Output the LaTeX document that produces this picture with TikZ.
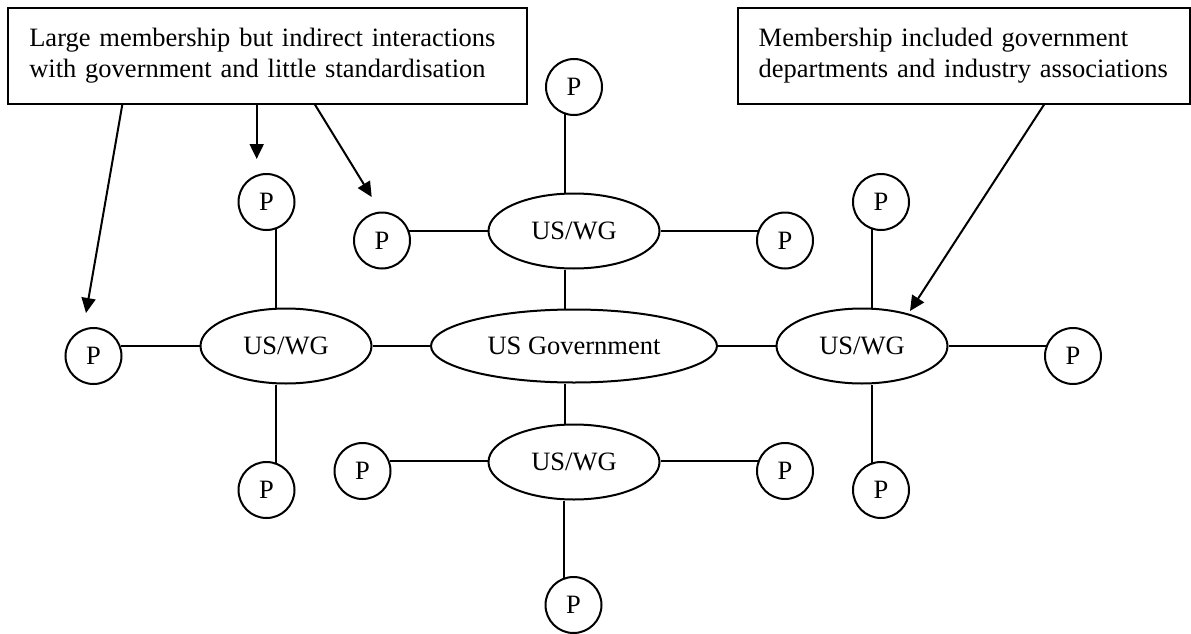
\documentclass[tikz,border=0pt]{standalone}
\usepackage{fontspec}
\setmainfont{Liberation Serif}
\usetikzlibrary{shapes.geometric,arrows.meta}
\begin{document}
\begin{tikzpicture}[x=1pt,y=-1pt,line width=2pt]
\tikzstyle{every node}=[font=\fontsize{26.5}{30.5}\selectfont];
\tikzstyle{pnode}=[draw,shape=circle,minimum size=56pt,inner sep=0pt];
\tikzstyle{wg}=[draw,shape=ellipse,minimum width=171pt,minimum height=75pt,inner sep=0pt];
\tikzstyle{note}=[draw,anchor=north west,align=left,inner xsep=21pt,minimum height=96pt];
\tikzstyle{callout}=[-{Triangle[length=15pt,width=14pt]}];
\useasboundingbox (0,0) rectangle (1191,634);
% notes
\node[note,text width=477pt] (boxL) at (7.3,6.7) {Large membership but indirect interactions\\with government and little standardisation};
\node[note,text width=410pt] (boxR) at (736.7,6.7) {Membership included government\\departments and industry associations};
% hubs
\node[wg,minimum width=286pt,minimum height=73pt] (gov) at (574,346) {US Government};
\node[wg] (wgT) at (574,231) {US/WG};
\node[wg] (wgB) at (574,462) {US/WG};
\node[wg] (wgL) at (286,346) {US/WG};
\node[wg] (wgR) at (862,346) {US/WG};
% participants
\node[pnode] (pT) at (574,87) {P};
\node[pnode] (pTL) at (382,240.5) {P};
\node[pnode] (pTR) at (785,240.5) {P};
\node[pnode] (pLT) at (266.5,202) {P};
\node[pnode] (pLL) at (93.5,356) {P};
\node[pnode] (pLB) at (266.5,490) {P};
\node[pnode] (pRT) at (881,202) {P};
\node[pnode] (pRR) at (1073,356) {P};
\node[pnode] (pRB) at (881,490) {P};
\node[pnode] (pBL) at (362.5,471) {P};
\node[pnode] (pBR) at (785,471) {P};
\node[pnode] (pB) at (573.5,605) {P};
\coordinate (tipLL) at (86,313);
\coordinate (tipLT) at (256.7,159);
\coordinate (tipTL) at (371.7,197);
\coordinate (tipR) at (910,311);
\draw (wgL) -- (gov)
(gov) -- (wgR)
([xshift=-9.5pt]wgT.south) -- ([xshift=-9.5pt]gov.north)
([xshift=-9.5pt]gov.south) -- ([xshift=-9.5pt]wgB.north)
(pT.251) -- (pT.251 |- wgT.north)
(pTL.20) -- (pTL.20 -| wgT.west)
(pTR.160) -- (pTR.160 -| wgT.east)
(pLT.290) -- (pLT.290 |- wgL.north)
(pLL.20) -- (pLL.20 -| wgL.west)
(pLB.70) -- (pLB.70 |- wgL.south)
(pRT.251) -- (pRT.251 |- wgR.north)
(pRR.160) -- (pRR.160 -| wgR.east)
(pRB.109) -- (pRB.109 |- wgR.south)
(pBL.20) -- (pBL.20 -| wgB.west)
(pBR.160) -- (pBR.160 -| wgB.east)
(pB.109) -- (pB.109 |- wgB.south);
\draw[callout] ([xshift=115pt]boxL.south west) -- (tipLL);
\draw[callout] ([xshift=249.4pt]boxL.south west) -- (tipLT);
\draw[callout] ([xshift=307.7pt]boxL.south west) -- (tipTL);
\draw[callout] ([xshift=307.3pt]boxR.south west) -- (tipR);
\end{tikzpicture}
\end{document}
